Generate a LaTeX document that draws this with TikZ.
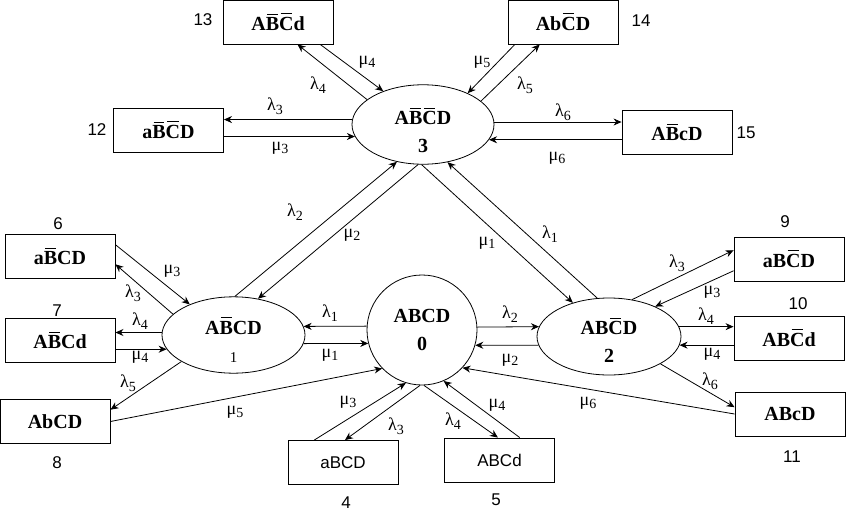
\documentclass[tikz,border=0pt]{standalone}
\usepackage{fontspec}
\setmainfont{Liberation Serif}
\setsansfont{Liberation Sans}
\usetikzlibrary{arrows.meta, calc, shapes.geometric}
\newcommand{\ol}[1]{{\setbox0\hbox{#1}\rlap{\hbox to \wd0{\hss\vrule width 0.8\wd0 height \dimexpr\ht0+3.6pt\relax depth -\dimexpr\ht0+2.6pt\relax\hss}}\box0}}
\newcommand{\lm}[1]{λ\raisebox{-3.5pt}{\fontsize{14}{14}\selectfont #1}}
\newcommand{\mum}[1]{μ\raisebox{-3.5pt}{\fontsize{14}{14}\selectfont #1}}

\begin{document}
\begin{tikzpicture}[x=1pt, y=-1pt]
  \tikzstyle{block} = [rectangle, draw, minimum width=110pt, minimum height=44pt, inner sep=0pt, line width=0.9pt, font=\fontsize{20}{22}\selectfont\bfseries]
  \tikzstyle{plain} = [block, font=\fontsize{17}{20}\selectfont\sffamily]
  \tikzstyle{state} = [ellipse, draw, line width=0.8pt, inner sep=0pt, align=center, font=\fontsize{20}{28}\selectfont\bfseries]
  \tikzstyle{num} = [font=\fontsize{17}{18}\selectfont\sffamily]
  \tikzstyle{rate} = [font=\fontsize{18}{18}\selectfont, inner sep=0pt]
  \tikzstyle{arrow} = [line width=0.8pt, -{Stealth[length=8pt, width=7pt]}]

  \useasboundingbox (0,0) rectangle (846,514);

  % states
  \node [state, circle, minimum size=110pt] (s0) at (422,330) {ABCD\\0};
  \node [state, minimum width=143pt, minimum height=76pt] (s1) at (233.5,335) {\rule{0pt}{26pt}A\ol{B}CD\\{\mdseries\fontsize{15}{16}\selectfont 1}};
  \node [state, minimum width=144pt, minimum height=77pt] (s2) at (609,336.5) {\rule{0pt}{24pt}AB\ol{C}D\\2};
  \node [state, minimum width=142pt, minimum height=79pt] (s3) at (423,124.5) {\rule{0pt}{28pt}A\ol{B}\ol{C}D\\3};

  \node [plain] (s4) at (343,462.5) {aBCD};
  \node [plain] (s5) at (499.5,460) {ABCd};
  \node [block] (s6) at (60,256.5) {a\ol{B}CD};
  \node [block] (s7) at (60,340.5) {A\ol{B}Cd};
  \node [block] (s8) at (55,421.5) {AbCD};
  \node [block] (s9) at (789,259) {aB\ol{C}D};
  \node [block] (s10) at (789,338) {AB\ol{C}d};
  \node [block] (s11) at (790,414) {ABcD};
  \node [block] (s12) at (168.5,130) {a\ol{B}\ol{C}D};
  \node [block] (s13) at (278,22) {A\ol{B}\ol{C}d};
  \node [block] (s14) at (563,22) {Ab\ol{C}D};
  \node [block] (s15) at (677,132.5) {A\ol{B}cD};

  % state numbers
  \node [num] (n4) at (346,503) {4};
  \node [num] (n5) at (496,500) {5};
  \node [num] (n6) at (58,224) {6};
  \node [num] (n7) at (57,311) {7};
  \node [num] (n8) at (57,463) {8};
  \node [num] (n9) at (785,222) {9};
  \node [num] (n10) at (798,304) {10};
  \node [num] (n11) at (792,457) {11};
  \node [num] (n12) at (97,130) {12};
  \node [num] (n13) at (203,20) {13};
  \node [num] (n14) at (641,21) {14};
  \node [num] (n15) at (746,133) {15};

  % state 3
  \draw [arrow] (s13.332) -- (s3.140);
  \draw [arrow] (s3.156) -- (s13.311);
  \draw [arrow] (s14.205) -- (s3.35);
  \draw [arrow] (s3.22) -- (s14.224);
  \draw [arrow] (s3.176) -- (s3.176 -| s12.east);
  \draw [arrow] (s3.190 -| s12.east) -- (s3.190);
  \draw [arrow] (s3.2) -- (s3.2 -| s15.west);
  \draw [arrow] (s3.347 -| s15.west) -- (s3.347);

  % between states
  \draw [arrow] (s1.88) -- (s3.235);
  \draw [arrow] (s3.263) -- (s1.56);
  \draw [arrow] (s3.268) -- (s2.137);
  \draw [arrow] (s2.107) -- (s3.303);
  \draw [arrow] (s0.176) -- (s1.7);
  \draw [arrow] (s1.353) -- (s0.194);
  \draw [arrow] (s0.3) -- (s2.172);
  \draw [arrow] (s2.187) -- (s0.344);

  % state 1
  \draw [arrow] (s6.12) -- (s1.145);
  \draw [arrow] (s1.161) -- (s6.352);
  \draw [arrow] (s1.178) -- (s1.178 -| s7.east);
  \draw [arrow] (s1.192 -| s7.east) -- (s1.192);
  \draw [arrow] (s1.207) -- (s8.12);
  \draw [arrow] (s8.east) -- (s0.224);

  % state 2
  \draw [arrow] (s2.58) -- (s9.171);
  \draw [arrow] (s9.192) -- (s2.33);
  \draw [arrow] (s2.8) -- (s2.8 -| s10.west);
  \draw [arrow] (s2.353 -| s10.west) -- (s2.353);
  \draw [arrow] (s2.332) -- (s11.173);
  \draw [arrow] (s11.west) -- (s0.317);

  % state 0
  \draw [arrow] (s4.142) -- (s0.253);
  \draw [arrow] (s0.268) -- (s4.85);
  \draw [arrow] (s0.272) -- (s5.94);
  \draw [arrow] (s5.48) -- (s0.293);

  % rates
  \node [rate] (r1) at (367,62) {\mum{4}};
  \node [rate] (r2) at (318,85) {\lm{4}};
  \node [rate] (r3) at (482,62) {\mum{5}};
  \node [rate] (r4) at (525,85) {\lm{5}};
  \node [rate] (r5) at (275,106) {\lm{3}};
  \node [rate] (r6) at (280,148) {\mum{3}};
  \node [rate] (r7) at (563,112) {\lm{6}};
  \node [rate] (r8) at (557,158) {\mum{6}};
  \node [rate] (r9) at (295,212) {\lm{2}};
  \node [rate] (r10) at (352,235) {\mum{2}};
  \node [rate] (r11) at (487,243) {\mum{1}};
  \node [rate] (r12) at (550,234) {\lm{1}};
  \node [rate] (r13) at (172,271) {\mum{3}};
  \node [rate] (r14) at (133,293) {\lm{3}};
  \node [rate] (r15) at (140,321) {\lm{4}};
  \node [rate] (r16) at (140,357) {\mum{4}};
  \node [rate] (r17) at (128,383) {\lm{5}};
  \node [rate] (r18) at (235,412) {\mum{5}};
  \node [rate] (r19) at (330,313) {\lm{1}};
  \node [rate] (r20) at (330,355) {\mum{1}};
  \node [rate] (r21) at (510,314) {\lm{2}};
  \node [rate] (r22) at (510,360) {\mum{2}};
  \node [rate] (r23) at (677,263) {\lm{3}};
  \node [rate] (r24) at (712,292) {\mum{3}};
  \node [rate] (r25) at (706,316) {\lm{4}};
  \node [rate] (r26) at (712,354) {\mum{4}};
  \node [rate] (r27) at (710,381) {\lm{6}};
  \node [rate] (r28) at (588,403) {\mum{6}};
  \node [rate] (r29) at (348,402) {\mum{3}};
  \node [rate] (r30) at (396,426) {\lm{3}};
  \node [rate] (r31) at (453,421) {\lm{4}};
  \node [rate] (r32) at (497,405) {\mum{4}};
\end{tikzpicture}
\end{document}
